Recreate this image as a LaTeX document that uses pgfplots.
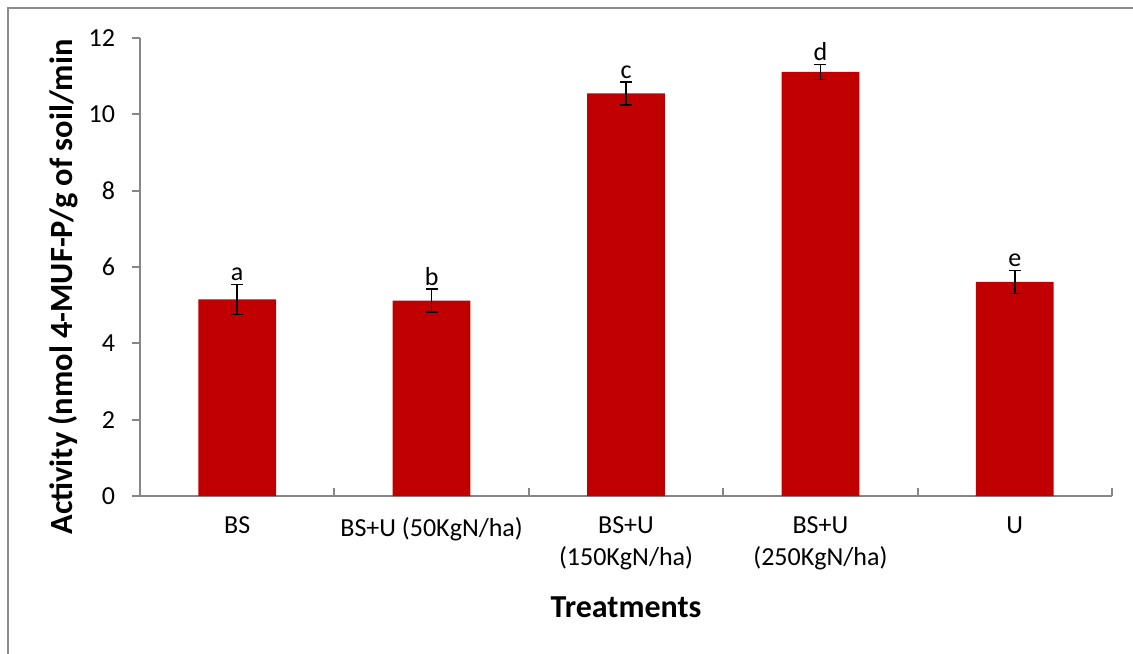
\documentclass[border=0pt]{standalone}
\usepackage{fontspec}
\setmainfont{Carlito}
\usepackage{pgfplots}
\pgfplotsset{compat=1.18}
\definecolor{barred}{HTML}{C00000}
\definecolor{axgray}{HTML}{868686}
\definecolor{framegray}{HTML}{8C8C8C}
\begin{document}
\begin{tikzpicture}[x=1pt,y=1pt]
\useasboundingbox (-70,-78.5) rectangle (496.5,248);
\draw[framegray, line width=1pt] (-66,-80) -- (-66,244) -- (498,244);
\begin{axis}[
  at={(0,0)}, anchor=origin,
  scale only axis,
  width=486pt, height=229pt,
  xmin=0.5, xmax=5.5, ymin=0, ymax=12,
  axis x line=bottom, axis y line=left,
  axis line style={axgray, line width=1pt, -},
  every tick/.style={axgray, line width=1pt},
  xtick={1,2,3,4,5},
  xticklabels={BS, BS+U (50KgN/ha), BS+U\\(150KgN/ha), BS+U\\(250KgN/ha), U},
  major x tick style={draw=none},
  minor xtick={0.5,1.5,2.5,3.5,4.5,5.5},
  minor tick length=4pt,
  xtick align=inside,
  ytick={0,2,4,6,8,10,12},
  ytick align=outside,
  major tick length=4pt,
  tick label style={font=\fontsize{13}{16}\selectfont, text=black},
  xticklabel style={align=center, anchor=north, yshift=-7pt},
  yticklabel style={xshift=-5pt},
  /pgf/number format/assume math mode=true,
  clip=false,
]
\addplot[ybar, bar width=0.4, fill=barred, draw=none,
  error bars/.cd, y dir=both, y explicit,
  error bar style={black, line width=0.75pt},
  error mark options={rotate=90, mark size=3pt, black, line width=0.75pt}]
coordinates {
  (1,5.15) +- (0,0.39)
  (2,5.12) +- (0,0.30)
  (3,10.55) +- (0,0.30)
  (4,11.11) +- (0,0.20)
  (5,5.61) +- (0,0.30)
};
\addplot[draw=none, mark=none, nodes near coords, point meta=explicit symbolic,
  every node near coord/.style={anchor=south, inner sep=1.5pt, font=\fontsize{13}{15}\selectfont, text=black}]
coordinates {
  (1,5.54) [a]
  (2,5.42) [b]
  (3,10.85) [c]
  (4,11.31) [d]
  (5,5.91) [e]
};
\end{axis}
\node[rotate=90, font=\fontsize{16.2}{19}\selectfont\bfseries] at (-38.5,104.5) {Activity (nmol 4-MUF-P/g of soil/min};
\node[font=\fontsize{16}{19}\selectfont\bfseries] at (243,-55.5) {Treatments};
\end{tikzpicture}
\end{document}
